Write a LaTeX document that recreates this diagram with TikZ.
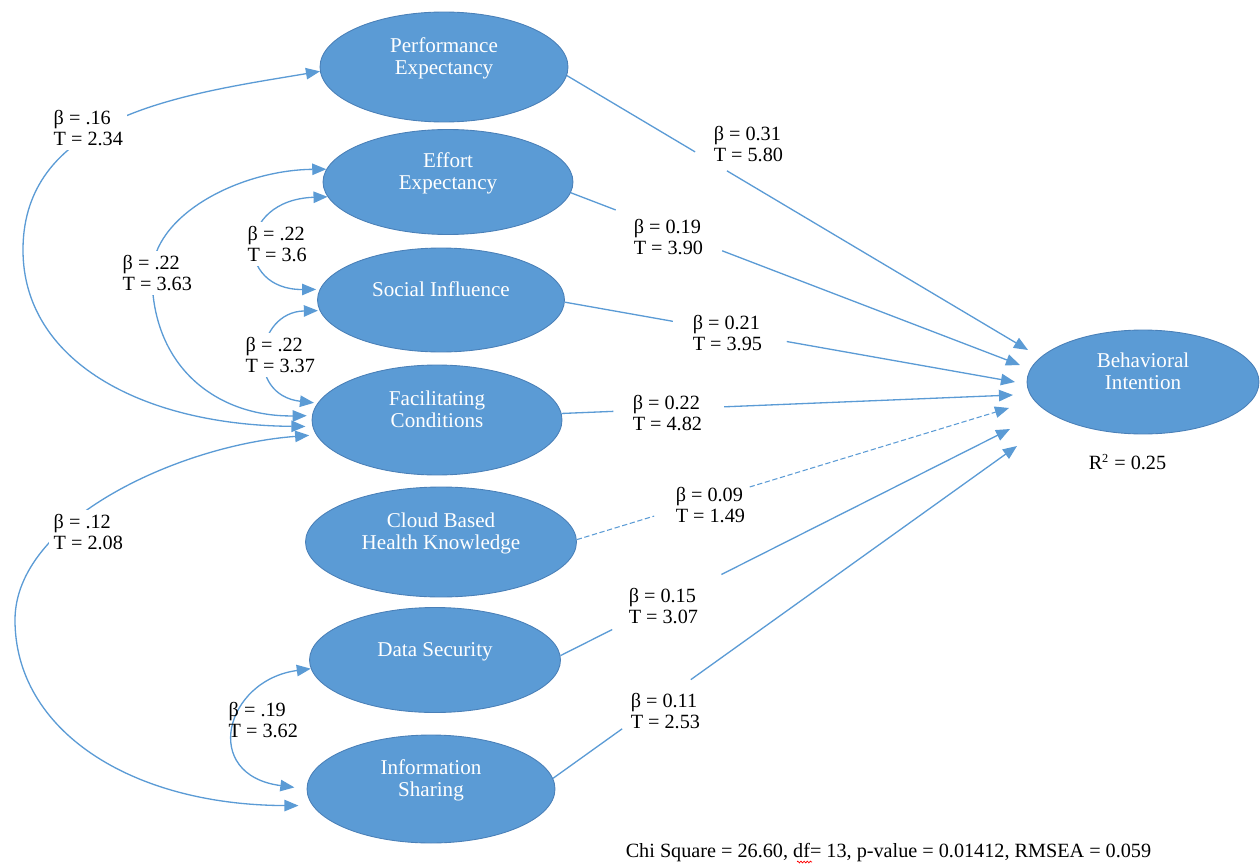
\documentclass[tikz,border=0pt]{standalone}
\usepackage{fontspec}
\setmainfont{Liberation Serif}
\usetikzlibrary{arrows.meta,shapes.geometric,calc,decorations.pathmorphing}
\definecolor{nodeblue}{HTML}{5B9BD5}
\definecolor{nodeedge}{HTML}{4A80B8}
\definecolor{linkblue}{HTML}{5B9BD5}
\newcommand\ltext[1]{\raisebox{4.5pt}[\height][\depth]{\begin{tabular}{@{}c@{}}#1\end{tabular}}}
\begin{document}
\begin{tikzpicture}[x=0.02cm, y=-0.02cm,
  ell/.style={ellipse, fill=nodeblue, draw=nodeedge, line width=0.5pt, inner sep=0pt,
              text=white, font=\fontsize{12}{12.5}\selectfont},
  lbl/.style={font=\fontsize{11.5}{12}\selectfont, align=left, inner sep=2.5pt, anchor=west},
  wlbl/.style={lbl, fill=white},
  link/.style={draw=linkblue, line width=0.75pt},
  arr/.style={-{Triangle[length=8pt,width=6.5pt]}},
  corr/.style={link, {Triangle[length=8pt,width=6.5pt]}-{Triangle[length=8pt,width=6.5pt]}},
  dsh/.style={dash pattern=on 3pt off 1.5pt, line width=0.6pt}
]
\useasboundingbox (0,0) rectangle (1260,865);

% ---------------- constructs ----------------
\node[ell, minimum width=4.96cm, minimum height=2.2cm]  (pe) at (444,67)  {\ltext{Performance\\Expectancy}};
\node[ell, minimum width=5.0cm,  minimum height=2.1cm]  (ee) at (448,182) {\ltext{Effort\\Expectancy}};
\node[ell, minimum width=4.94cm, minimum height=2.08cm] (si) at (441,300) {\ltext{Social Influence}};
\node[ell, minimum width=5.0cm,  minimum height=2.2cm]  (fc) at (437,420) {\ltext{Facilitating\\Conditions}};
\node[ell, minimum width=5.42cm, minimum height=2.2cm]  (cb) at (441,542) {\ltext{Cloud Based\\Health Knowledge}};
\node[ell, minimum width=5.02cm, minimum height=2.1cm]  (ds) at (435,660) {\ltext{Data Security}};
\node[ell, minimum width=4.96cm, minimum height=2.16cm] (is) at (431,789) {\ltext{Information\\Sharing}};
\node[ell, minimum width=4.64cm, minimum height=2.08cm] (bi) at (1143,382) {\ltext{Behavioral\\Intention}};

% arrow tips in front of Behavioral Intention
\coordinate (bi1) at ($(bi.center)+(-115,-32)$);
\coordinate (bi2) at ($(bi.center)+(-123,-17)$);
\coordinate (bi3) at ($(bi.center)+(-128,0)$);
\coordinate (bi4) at ($(bi.center)+(-130,13)$);
\coordinate (bi5) at ($(bi.center)+(-134,26)$);
\coordinate (bi6) at ($(bi.center)+(-133,47)$);
\coordinate (bi7) at ($(bi.center)+(-126,64)$);

% ---------------- structural paths ----------------
\draw[link] (pe.-4) -- ($(pe.-4)!0.278!(bi1)$);
\draw[link,arr] ($(pe.-4)!0.347!(bi1)$) -- (bi1);

\draw[link] (ee.-5) -- ($(ee.-5)!0.100!(bi2)$);
\draw[link,arr] ($(ee.-5)!0.337!(bi2)$) -- (bi2);

\draw[link] (si.-1) -- ($(si.-1)!0.240!(bi3)$);
\draw[link,arr] ($(si.-1)!0.493!(bi3)$) -- (bi3);

\draw[link] (fc.3) -- ($(fc.3)!0.115!(bi4)$);
\draw[link,arr] ($(fc.3)!0.360!(bi4)$) -- (bi4);

\draw[link,dsh] (cb.1) -- ($(cb.1)!0.179!(bi5)$);
\draw[link,dsh,arr] ($(cb.1)!0.400!(bi5)$) -- (bi5);

\draw[link] (ds.2) -- ($(ds.2)!0.115!(bi6)$);
\draw[link,arr] ($(ds.2)!0.358!(bi6)$) -- (bi6);

\draw[link] (is.5) -- ($(is.5)!0.149!(bi7)$);
\draw[link,arr] ($(is.5)!0.297!(bi7)$) -- (bi7);

% ---------------- correlations ----------------
\draw[corr, shorten >=4pt] (pe.182) .. controls (185,94) and (23,115) .. (23,250)
      .. controls (23,360) and (140,425) .. (fc.183);
\draw[corr, shorten >=3pt] (ee.174) .. controls (240,170) and (152,215) .. (152,275)
      .. controls (152,370) and (220,417) .. (fc.178);
\draw[corr, shorten >=2pt] (ee.187) .. controls (235,200) and (235,290) .. (si.175);
\draw[corr, shorten <=1pt, shorten >=2pt] (si.185) .. controls (255,312) and (245,395) .. (fc.172);
\draw[corr, shorten <=4pt, shorten >=8pt] (fc.187) .. controls (180,445) and (15,520) .. (15,620)
      .. controls (15,730) and (130,805) .. (is.188);
\draw[corr, shorten >=7pt] (ds.184) .. controls (225,680) and (200,775) .. (is.180);

% ---------------- labels ----------------
\node[wlbl] (l16)  at (49,128)  {β = .16\\T = 2.34};
\node[wlbl] (l363) at (118,273) {β = .22\\T = 3.63};
\node[wlbl] (l36)  at (243,244) {β = .22\\T = 3.6};
\node[wlbl] (l337) at (241,355) {β = .22\\T = 3.37};
\node[wlbl] (l12)  at (49,532)  {β = .12\\T = 2.08};
\node[lbl]  (l19)  at (224,720) {β = .19\\T = 3.62};

\node[lbl] (r31) at (709,144) {β = 0.31\\T = 5.80};
\node[lbl] (r19) at (629,237) {β = 0.19\\T = 3.90};
\node[lbl] (r21) at (688,333) {β = 0.21\\T = 3.95};
\node[lbl] (r22) at (628,413) {β = 0.22\\T = 4.82};
\node[lbl] (r09) at (671,505) {β = 0.09\\T = 1.49};
\node[lbl] (r15) at (624,606) {β = 0.15\\T = 3.07};
\node[lbl] (r11) at (626,711) {β = 0.11\\T = 2.53};

\node[lbl] (rsq) at (1084,462) {R\textsuperscript{\scriptsize 2} = 0.25};
\node[lbl] (chi) at (621,853) {Chi Square = 26.60, df= 13, p-value = 0.01412, RMSEA = 0.059};
\draw[red, line width=0.4pt, decorate, decoration={zigzag, amplitude=0.5pt, segment length=1.8pt}]
  (797,862) -- (812,862);
\end{tikzpicture}
\end{document}
